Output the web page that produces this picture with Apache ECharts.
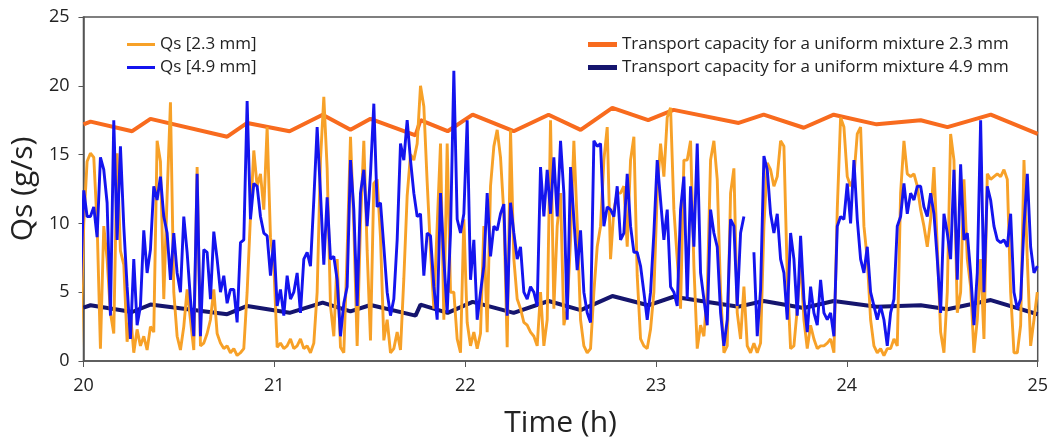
<!DOCTYPE html>
<html>
<head>
<meta charset="utf-8">
<script src="https://cdn.jsdelivr.net/npm/echarts@6/dist/echarts.min.js"></script>
<style>
html,body{margin:0;padding:0;background:#fff;}
#chart{width:1051px;height:443px;}
</style>
</head>
<body>
<div id="chart"></div>
<script>
// Sampling of the measured series (hours)
const sampleStart = 19.984;
const sampleStep = 0.01747;

// Qs [2.3 mm] (g/s)
const qs23 = [
  0.6, 10.0, 14.5, 15.1, 14.8, 10.0, 0.9, 9.8, 7.4, 3.5, 2.0, 15.1, 8.0, 7.0, 1.4, 3.5, 0.6, 2.3, 1.1, 1.8, 0.8, 2.5, 2.1, 16.0, 14.5, 4.5, 12.0, 18.8, 5.0, 1.8, 0.8, 2.5, 5.2, 3.0, 0.8, 14.1,
  1.1, 1.3, 2.0, 3.0, 5.2, 2.0, 1.3, 0.9, 1.1, 0.6, 0.9, 0.4, 0.6, 0.9, 5.0, 10.5, 15.3, 12.7, 13.6, 11.0, 17.0, 9.0, 7.0, 1.0, 1.3, 0.9, 1.1, 1.6, 0.9, 1.1, 1.6, 0.9, 1.1, 0.6, 1.3, 5.0,
  14.6, 19.2, 14.0, 4.0, 1.8, 7.4, 1.0, 0.6, 8.0, 16.3, 9.8, 1.1, 10.0, 16.0, 8.0, 1.5, 12.9, 13.2, 9.0, 1.5, 3.0, 0.6, 0.9, 2.1, 0.8, 6.0, 12.0, 15.0, 14.6, 15.8, 20.0, 18.5, 13.0, 8.0, 3.8, 9.8,
  15.8, 3.0, 15.8, 5.0, 5.0, 1.6, 0.6, 10.3, 2.8, 1.1, 2.1, 0.9, 2.0, 9.8, 2.1, 12.7, 15.6, 16.8, 14.8, 10.7, 1.0, 16.8, 7.4, 4.5, 3.8, 2.8, 2.6, 2.1, 1.8, 1.1, 5.0, 1.1, 3.0, 17.5, 3.8, 9.8,
  12.2, 2.6, 3.8, 8.8, 16.0, 10.0, 3.0, 1.1, 0.6, 0.9, 5.0, 8.3, 9.8, 14.6, 17.0, 7.4, 11.0, 12.2, 12.2, 12.7, 8.3, 14.6, 16.3, 6.2, 1.6, 1.1, 0.9, 2.3, 5.0, 12.2, 15.8, 13.4, 17.7, 18.4, 11.0, 7.4,
  3.8, 14.6, 14.6, 16.0, 6.9, 0.9, 2.6, 1.8, 5.0, 14.6, 16.0, 13.2, 5.0, 0.6, 1.1, 12.2, 14.0, 3.5, 1.6, 5.4, 1.1, 0.6, 1.3, 0.6, 1.3, 9.8, 14.4, 13.9, 12.7, 13.4, 16.0, 15.6, 6.2, 0.9, 1.1, 3.8,
  7.4, 3.0, 0.9, 2.6, 1.6, 0.9, 1.1, 1.1, 1.3, 1.6, 0.6, 11.0, 17.7, 17.0, 13.4, 12.7, 13.4, 16.5, 17.0, 9.8, 7.4, 3.0, 1.1, 0.6, 0.9, 0.4, 0.9, 0.9, 1.6, 1.1, 12.2, 16.0, 13.6, 13.4, 13.6, 12.7,
  11.0, 9.8, 8.3, 10.3, 14.1, 8.3, 2.1, 0.6, 5.0, 16.5, 14.6, 3.5, 5.0, 13.2, 7.4, 5.4, 0.6, 3.0, 7.4, 1.6, 13.6, 13.2, 13.4, 13.6, 13.4, 13.9, 13.2, 5.0, 0.6, 0.6, 2.6, 14.6, 7.4, 1.1, 3.0, 5.0
];

// Qs [4.9 mm] (g/s)
const qs49 = [
  5.2, 12.4, 10.5, 10.5, 11.2, 9.0, 14.8, 13.9, 11.5, 3.3, 17.5, 8.8, 15.6, 9.8, 5.4, 1.6, 7.4, 2.6, 4.0, 9.5, 6.4, 8.1, 12.7, 11.7, 13.4, 10.5, 9.3, 5.9, 9.3, 6.4, 5.0, 10.5, 7.9, 4.5, 1.8, 13.6,
  1.8, 8.1, 7.9, 4.5, 9.4, 7.4, 5.0, 6.2, 4.2, 5.2, 5.2, 2.8, 8.6, 8.8, 18.9, 10.3, 12.9, 12.7, 10.5, 9.3, 9.1, 6.2, 8.8, 4.0, 5.2, 3.3, 6.2, 4.5, 5.0, 6.4, 3.5, 7.4, 7.9, 6.9, 11.7, 17.0,
  12.2, 7.0, 11.9, 7.4, 7.6, 5.9, 1.8, 4.2, 5.4, 14.6, 11.0, 4.0, 12.2, 13.9, 9.8, 13.6, 18.7, 11.2, 11.5, 8.3, 5.0, 3.3, 4.5, 8.8, 15.8, 14.6, 17.5, 14.6, 12.2, 10.5, 10.7, 6.2, 9.3, 9.1, 5.4, 3.0,
  12.2, 7.4, 3.5, 9.3, 21.1, 10.3, 9.3, 10.7, 17.5, 5.9, 8.8, 3.0, 5.0, 6.9, 12.2, 7.6, 9.8, 9.5, 10.7, 11.4, 3.3, 11.5, 9.3, 7.4, 8.3, 5.0, 4.5, 5.4, 5.0, 4.0, 14.1, 10.5, 13.9, 10.7, 14.8, 10.5,
  16.0, 12.2, 3.0, 14.1, 10.3, 6.6, 9.5, 5.0, 3.5, 2.8, 16.0, 15.6, 15.8, 9.8, 11.2, 11.0, 10.5, 12.7, 8.8, 9.3, 13.6, 9.8, 7.9, 7.9, 6.9, 5.0, 3.0, 5.0, 9.3, 14.6, 11.7, 8.8, 11.0, 5.4, 5.0, 4.0,
  11.0, 13.4, 4.5, 12.7, 8.3, 15.8, 6.4, 4.5, 2.6, 11.0, 9.3, 8.3, 3.5, 1.1, 3.0, 10.3, 9.8, 4.0, 9.3, 10.5, null, null, 7.9, 1.8, 5.2, 14.9, 13.9, 10.7, 9.3, 10.7, 7.4, 6.4, 3.0, 9.3, 7.4, 3.3,
  9.1, 4.5, 2.1, 5.4, 3.5, 2.6, 5.9, 3.5, 3.0, 3.5, 1.8, 9.8, 10.5, 10.3, 12.9, 10.0, 14.6, 10.3, 7.4, 6.4, 8.3, 5.0, 4.0, 3.0, 4.0, 3.0, 1.1, 3.5, 4.5, 9.8, 10.5, 12.9, 10.7, 12.2, 11.7, 12.7,
  12.7, 11.2, 10.5, 12.2, 10.7, 7.4, 3.5, 10.7, 9.3, 7.4, 13.9, 5.9, 14.3, 8.8, 9.3, 6.4, 2.6, 6.4, 17.5, 5.0, 12.7, 11.7, 9.8, 8.8, 8.6, 8.8, 8.3, 10.7, 5.0, 3.8, 4.5, 9.8, 13.6, 8.3, 6.4, 6.9
];

// Transport capacity (uniform mixture), vertices
const capTimes = [20.000, 20.037, 20.255, 20.351, 20.753, 20.858, 21.080, 21.253, 21.399, 21.504, 21.740, 21.766, 21.908, 22.039, 22.254, 22.437, 22.605, 22.771, 22.959, 23.092, 23.433, 23.564, 23.774, 23.931, 24.156, 24.387, 24.527, 24.754, 25.000];
const cap23 = [17.2, 17.4, 16.7, 17.6, 16.3, 17.3, 16.7, 17.9, 16.8, 17.6, 16.4, 17.5, 16.7, 17.9, 16.7, 17.9, 16.8, 18.4, 17.5, 18.25, 17.3, 17.9, 16.95, 17.9, 17.2, 17.5, 17.0, 17.9, 16.5];
const cap49 = [3.88, 4.05, 3.56, 4.1, 3.4, 4.0, 3.5, 4.24, 3.6, 4.07, 3.3, 4.1, 3.5, 4.3, 3.5, 4.36, 3.7, 4.72, 4.05, 4.67, 3.95, 4.36, 3.85, 4.36, 3.95, 4.05, 3.76, 4.43, 3.4];

const seriesNames = ['Qs [2.3 mm]', 'Qs [4.9 mm]', 'Transport capacity for a uniform mixture 2.3 mm', 'Transport capacity for a uniform mixture 4.9 mm'];
const seriesColors = ['#F7A128', '#1414EE', '#F86B1E', '#15156E'];

const toPairs = (vals) => vals.map((v, i) => [sampleStart + i * sampleStep, v]);
const capPairs = (vals) => vals.map((v, i) => [capTimes[i], v]);

const FONT = 'Open Sans';
const chart = echarts.init(document.getElementById('chart'), null, {renderer: 'canvas'});
chart.setOption({
  animation: false,
  backgroundColor: '#ffffff',
  grid: {left: 82, right: 13, top: 17, bottom: 81, show: true, borderColor: '#555', borderWidth: 1.5, containLabel: false},
  legend: [
    {
      orient: 'vertical', left: 122, top: 31, itemWidth: 28, itemHeight: 3, itemGap: 6, icon: 'rect',
      data: [seriesNames[0], seriesNames[1]],
      textStyle: {fontFamily: FONT, fontSize: 17, color: '#222'}
    },
    {
      orient: 'vertical', left: 583, top: 31, itemWidth: 29, itemHeight: 5, itemGap: 6, icon: 'rect',
      data: [seriesNames[2], seriesNames[3]],
      textStyle: {fontFamily: FONT, fontSize: 17, color: '#222'}
    }
  ],
  xAxis: {
    type: 'value', min: 20, max: 25, interval: 1,
    name: 'Time (h)', nameLocation: 'middle', nameGap: 47,
    nameTextStyle: {fontFamily: FONT, fontSize: 30, color: '#222'},
    axisLine: {show: true, lineStyle: {color: '#555', width: 1.5}},
    axisTick: {show: true, inside: false, length: 6, lineStyle: {color: '#555'}},
    axisLabel: {fontFamily: FONT, fontSize: 18, color: '#222', margin: 16},
    splitLine: {show: false}
  },
  yAxis: {
    type: 'value', min: 0, max: 25, interval: 5,
    name: 'Qs (g/s)', nameLocation: 'middle', nameGap: 33, nameRotate: 90,
    nameTextStyle: {fontFamily: FONT, fontSize: 30, color: '#222'},
    axisLine: {show: true, lineStyle: {color: '#555', width: 1.5}},
    axisTick: {show: true, inside: false, length: 5, lineStyle: {color: '#555'}},
    axisLabel: {fontFamily: FONT, fontSize: 18, color: '#222', margin: 14},
    splitLine: {show: false}
  },
  series: [
    {name: seriesNames[2], type: 'line', data: capPairs(cap23), symbol: 'none', color: seriesColors[2], lineStyle: {width: 4, color: seriesColors[2]}, z: 2},
    {name: seriesNames[3], type: 'line', data: capPairs(cap49), symbol: 'none', color: seriesColors[3], lineStyle: {width: 4, color: seriesColors[3]}, z: 2},
    {name: seriesNames[0], type: 'line', data: toPairs(qs23), symbol: 'none', color: seriesColors[0], lineStyle: {width: 2.9, color: seriesColors[0]}, z: 3},
    {name: seriesNames[1], type: 'line', data: toPairs(qs49), symbol: 'none', color: seriesColors[1], lineStyle: {width: 2.9, color: seriesColors[1]}, z: 4}
  ]
});
</script>
</body>
</html>
